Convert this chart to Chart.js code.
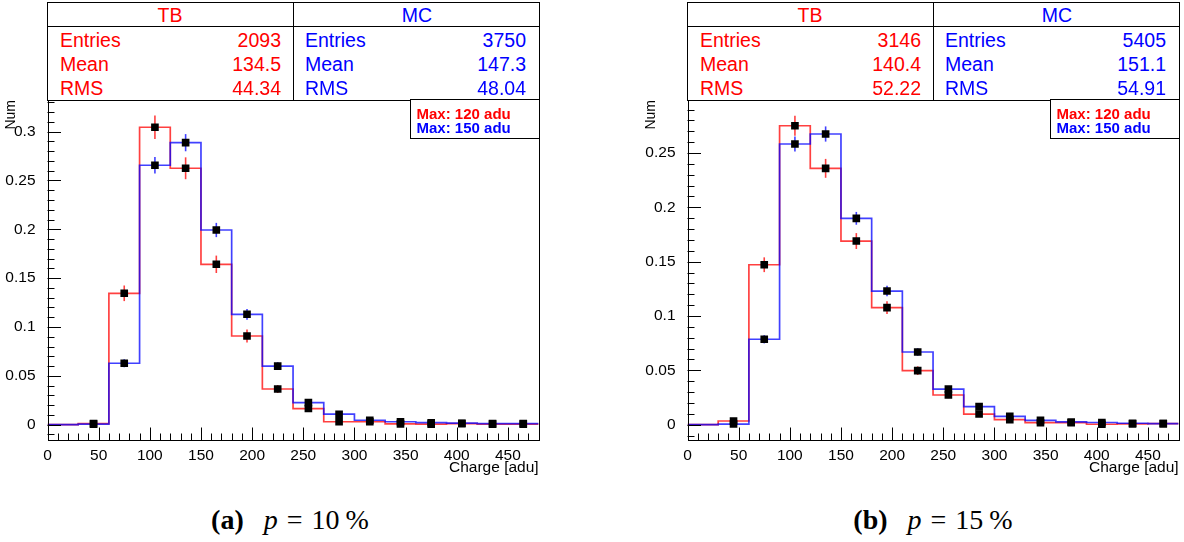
<!DOCTYPE html>
<html>
<head>
<meta charset="utf-8">
<script src="https://cdn.jsdelivr.net/npm/chart.js@4.4.0/dist/chart.umd.min.js"></script>
<style>
  body { margin: 0; background: #fff; width: 1184px; height: 542px; position: relative; overflow: hidden;
         font-family: "Liberation Sans", Arial, sans-serif; }
  .panel { position: absolute; top: 0; width: 544px; height: 480px; }
  .panel canvas { position: absolute; left: 0; top: 0; }
  .abs { position: absolute; white-space: pre; }
  .line { position: absolute; background: #000; }
  .caption { position: absolute; top: 503px; width: 400px; text-align: center; white-space: pre;
             font-family: "Liberation Serif", "DejaVu Serif", serif; font-size: 28px; line-height: 34px; color: #000; }
  .caption b { margin-right: 20px; }
  .caption .eq { margin: 0 9px; }
  .caption .pct { margin-left: 6px; }
</style>
</head>
<body>
<div id="panelA" class="panel" style="left:0px"><canvas id="chartA" width="544" height="480"></canvas></div>
<div id="panelB" class="panel" style="left:640px"><canvas id="chartB" width="544" height="480"></canvas></div>
<div class="caption" style="left:90px"><b>(a)</b><i>p</i><span class="eq">=</span>10<span class="pct">%</span></div>
<div class="caption" style="left:733px"><b>(b)</b><i>p</i><span class="eq">=</span>15<span class="pct">%</span></div>

<script>
/* ===============================
   Data
================================*/
const binEdges = [0, 30, 60, 90, 120, 150, 180, 210, 240, 270, 300, 330, 360, 390, 420, 450, 480];
const binCenters = [15, 45, 75, 105, 135, 165, 195, 225, 255, 285, 315, 345, 375, 405, 435, 465];
const xTicks = [0, 50, 100, 150, 200, 250, 300, 350, 400, 450];
const xTickLabels = ["0", "50", "100", "150", "200", "250", "300", "350", "400", "450"];

const statLabels = ["Entries", "Mean", "RMS"];
const legendLines = ["Max: 120 adu", "Max: 150 adu"];

// (a) p = 10 %
const tbValuesA = [0, 0.001, 0.1345, 0.3045, 0.2625, 0.1642, 0.0908, 0.0365, 0.0165, 0.003, 0.003, 0.0008, 0.0005, 0.001, 0.0005, 0.0005];
const tbErrorsA = [0, 0.0007, 0.008, 0.0121, 0.0112, 0.0089, 0.0066, 0.0041, 0.0028, 0.0012, 0.0012, 0.0006, 0.0005, 0.0007, 0.0005, 0.0005];
const mcValuesA = [0, 0.0005, 0.0629, 0.2656, 0.2887, 0.1993, 0.113, 0.060, 0.0225, 0.0107, 0.0045, 0.003, 0.002, 0.0015, 0.001, 0.001];
const mcErrorsA = [0, 0.0004, 0.0041, 0.0084, 0.0088, 0.0073, 0.0055, 0.004, 0.0024, 0.0017, 0.0011, 0.0009, 0.0007, 0.0006, 0.0005, 0.0005];
const yTicksA = [0, 0.05, 0.1, 0.15, 0.2, 0.25, 0.3];
const yTickLabelsA = ["0", "0.05", "0.1", "0.15", "0.2", "0.25", "0.3"];
const yRangeA = [-0.0157, 0.3324];
const tbStatsA = ["2093", "134.5", "44.34"];
const mcStatsA = ["3750", "147.3", "48.04"];

// (b) p = 15 %
const tbValuesB = [0, 0.0034, 0.1472, 0.2751, 0.2359, 0.169, 0.1077, 0.0497, 0.0273, 0.0098, 0.0046, 0.0018, 0.0018, 0.0004, 0.0008, 0.001];
const tbErrorsB = [0, 0.001, 0.0068, 0.0093, 0.0087, 0.0073, 0.0059, 0.004, 0.0029, 0.0018, 0.0012, 0.0008, 0.0008, 0.0004, 0.0005, 0.0006];
const mcValuesB = [0, 0.0006, 0.0786, 0.2583, 0.2675, 0.1899, 0.123, 0.0669, 0.0328, 0.0166, 0.0077, 0.004, 0.0025, 0.002, 0.0013, 0.001];
const mcErrorsB = [0, 0.0003, 0.0038, 0.0069, 0.007, 0.0059, 0.0048, 0.0035, 0.0025, 0.0018, 0.0012, 0.0009, 0.0007, 0.0006, 0.0005, 0.0004];
const yTicksB = [0, 0.05, 0.1, 0.15, 0.2, 0.25];
const yTickLabelsB = ["0", "0.05", "0.1", "0.15", "0.2", "0.25"];
const yRangeB = [-0.0141, 0.2988];
const tbStatsB = ["3146", "140.4", "52.22"];
const mcStatsB = ["5405", "151.1", "54.91"];

const RED = "rgba(255,0,0,0.75)";
const BLUE = "rgba(0,0,255,0.75)";

/* ===============================
   Helpers
================================*/
function stepPoints(values) {
  // two points per bin: left edge and right edge
  return values.flatMap((v, i) => [{ x: binEdges[i], y: v }, { x: binEdges[i + 1], y: v }]);
}

function markerPoints(values, errors) {
  return binCenters
    .map((c, i) => ({ x: c, y: values[i], err: errors[i] }))
    .filter((p) => p.y > 0);
}

function addDiv(parent, cls, style, text) {
  const el = document.createElement("div");
  el.className = cls;
  el.style.cssText = style;
  if (text !== undefined) el.textContent = text;
  parent.appendChild(el);
  return el;
}

/* ===============================
   ROOT-like frame, ticks, error bars
================================*/
const rootStyle = {
  id: "rootStyle",
  beforeDatasetsDraw(chart) {
    const { ctx } = chart;
    const xs = chart.scales.x, ys = chart.scales.y;
    chart.data.datasets.forEach((ds) => {
      if (!ds.errColor) return;
      ctx.save();
      ctx.strokeStyle = ds.errColor;
      ctx.lineWidth = 1.6;
      ds.data.forEach((p) => {
        if (!p.err) return;
        const px = xs.getPixelForValue(p.x);
        ctx.beginPath();
        ctx.moveTo(px, ys.getPixelForValue(p.y - p.err));
        ctx.lineTo(px, ys.getPixelForValue(p.y + p.err));
        ctx.stroke();
      });
      ctx.restore();
    });
  },
  afterDraw(chart) {
    const { ctx, chartArea: a } = chart;
    const xs = chart.scales.x, ys = chart.scales.y;
    ctx.save();
    ctx.strokeStyle = "#000";
    ctx.lineWidth = 1;
    ctx.strokeRect(Math.round(a.left) + 0.5, Math.round(a.top) + 0.5,
                   Math.round(a.right - a.left), Math.round(a.bottom - a.top));
    ctx.beginPath();
    // y ticks: minor every 0.01, major every 0.05
    for (let k = Math.ceil(ys.min / 0.01); k <= Math.floor(ys.max / 0.01); k++) {
      const py = Math.round(ys.getPixelForValue(k * 0.01)) + 0.5;
      const len = k % 5 === 0 ? 13.5 : 7;
      ctx.moveTo(a.left, py);
      ctx.lineTo(a.left + len, py);
    }
    // x ticks: minor every 10, major every 50
    for (let v = 0; v <= xs.max; v += 10) {
      const px = Math.round(xs.getPixelForValue(v)) + 0.5;
      const len = v % 50 === 0 ? 12.5 : 6.5;
      ctx.moveTo(px, a.bottom);
      ctx.lineTo(px, a.bottom - len);
    }
    ctx.stroke();
    ctx.restore();
  }
};

/* ===============================
   Build one panel
================================*/
function buildPanel(canvasId, panelId, d) {
  new Chart(document.getElementById(canvasId), {
    type: "scatter",
    data: {
      datasets: [
        { label: "MC", data: markerPoints(d.mc, d.mcErr), errColor: BLUE,
          pointStyle: "rect", pointRadius: 5.4, backgroundColor: "#000", borderWidth: 0, showLine: false },
        { label: "TB", data: markerPoints(d.tb, d.tbErr), errColor: RED,
          pointStyle: "rect", pointRadius: 5.4, backgroundColor: "#000", borderWidth: 0, showLine: false },
        { label: "MC hist", data: stepPoints(d.mc), showLine: true, borderColor: BLUE,
          borderWidth: 1.7, pointRadius: 0, fill: false },
        { label: "TB hist", data: stepPoints(d.tb), showLine: true, borderColor: RED,
          borderWidth: 1.7, pointRadius: 0, fill: false }
      ]
    },
    options: {
      responsive: false,
      animation: false,
      devicePixelRatio: 1,
      layout: { padding: { top: 100, right: 4.5, bottom: 0, left: 0 } },
      plugins: { legend: { display: false }, tooltip: { enabled: false } },
      scales: {
        x: {
          type: "linear", min: 0, max: 480,
          grid: { display: false }, border: { display: false },
          afterBuildTicks: (s) => { s.ticks = xTicks.map((v) => ({ value: v })); },
          afterFit: (s) => { s.height = 40; },
          ticks: {
            autoSkip: false, maxRotation: 0, padding: -2, color: "#000",
            font: { family: "Liberation Sans", size: 15.5 },
            callback: (v) => xTickLabels[xTicks.indexOf(v)]
          },
          title: { display: true, text: "Charge [adu]", align: "end", color: "#000",
                   font: { family: "Liberation Sans", size: 15.5 }, padding: { top: 0, bottom: 3 } }
        },
        y: {
          type: "linear", min: d.yRange[0], max: d.yRange[1],
          grid: { display: false }, border: { display: false },
          afterBuildTicks: (s) => { s.ticks = d.yTicks.map((v) => ({ value: v })); },
          afterFit: (s) => { s.width = 47.5; },
          ticks: {
            autoSkip: false, padding: 4, color: "#000",
            font: { family: "Liberation Sans", size: 15.5 },
            callback: (v) => d.yLabels[d.yTicks.indexOf(v)]
          },
          title: { display: true, text: "Num", align: "end", color: "#000",
                   font: { family: "Liberation Sans", size: 14 }, padding: { top: 3, bottom: 0 } }
        }
      }
    },
    plugins: [rootStyle]
  });

  // stats box
  const p = document.getElementById(panelId);
  addDiv(p, "abs", "left:47px;top:2px;width:493px;height:99px;border:1px solid #000;box-sizing:border-box;background:#fff;");
  addDiv(p, "line", "left:47px;top:26px;width:493px;height:1px;");
  addDiv(p, "line", "left:293px;top:2px;width:1px;height:98px;");
  const f = "font-size:19.5px;line-height:24px;";
  addDiv(p, "abs", f + "left:47px;top:3px;width:246px;text-align:center;color:#f00;", "TB");
  addDiv(p, "abs", f + "left:294px;top:3px;width:246px;text-align:center;color:#00f;", "MC");
  statLabels.forEach((lab, i) => {
    const top = 27.5 + i * 24;
    addDiv(p, "abs", f + `left:60px;top:${top}px;color:#f00;`, lab);
    addDiv(p, "abs", f + `left:160px;top:${top}px;width:121px;text-align:right;color:#f00;`, d.tbStats[i]);
    addDiv(p, "abs", f + `left:305px;top:${top}px;color:#00f;`, lab);
    addDiv(p, "abs", f + `left:405px;top:${top}px;width:121px;text-align:right;color:#00f;`, d.mcStats[i]);
  });

  // max legend box
  addDiv(p, "abs", "left:410px;top:99px;width:130px;height:40px;border:1px solid #000;box-sizing:border-box;background:#fff;");
  legendLines.forEach((txt, i) => {
    addDiv(p, "abs", `left:416.5px;top:${107.3 + i * 13.3}px;font-size:15px;font-weight:bold;line-height:13.3px;color:${i === 0 ? "#f00" : "#00f"};`, txt);
  });
}

buildPanel("chartA", "panelA", {
  tb: tbValuesA, tbErr: tbErrorsA, mc: mcValuesA, mcErr: mcErrorsA,
  yTicks: yTicksA, yLabels: yTickLabelsA, yRange: yRangeA,
  tbStats: tbStatsA, mcStats: mcStatsA
});

buildPanel("chartB", "panelB", {
  tb: tbValuesB, tbErr: tbErrorsB, mc: mcValuesB, mcErr: mcErrorsB,
  yTicks: yTicksB, yLabels: yTickLabelsB, yRange: yRangeB,
  tbStats: tbStatsB, mcStats: mcStatsB
});
</script>
</body>
</html>
